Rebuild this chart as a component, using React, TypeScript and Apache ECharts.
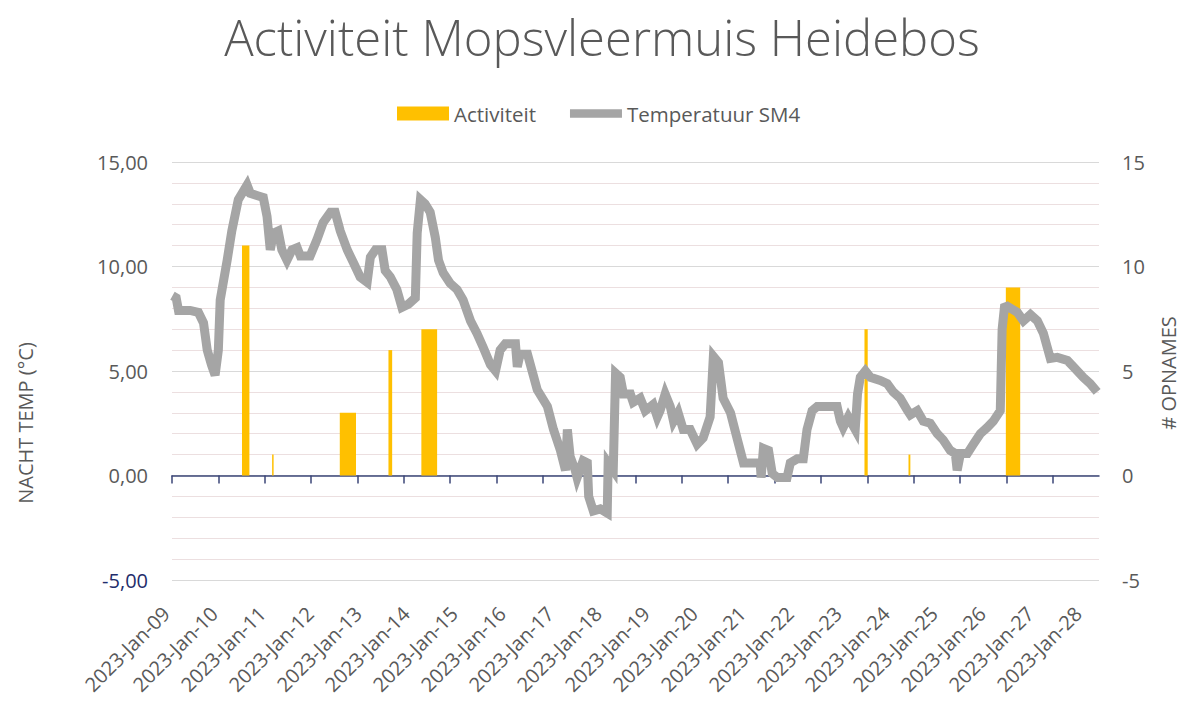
import React, { useEffect, useRef } from 'react';
import * as echarts from 'echarts';

// X labels (one per night)
const dateLabels = [
  '2023-Jan-09', '2023-Jan-10', '2023-Jan-11', '2023-Jan-12', '2023-Jan-13',
  '2023-Jan-14', '2023-Jan-15', '2023-Jan-16', '2023-Jan-17', '2023-Jan-18',
  '2023-Jan-19', '2023-Jan-20', '2023-Jan-21', '2023-Jan-22', '2023-Jan-23',
  '2023-Jan-24', '2023-Jan-25', '2023-Jan-26', '2023-Jan-27', '2023-Jan-28',
];

// Night temperature SM4 : position (in nights from start) and value (°C)
const tempDays = [
  0.01, 0.09, 0.14, 0.39, 0.57, 0.68, 0.76, 0.85, 0.93, 1.0, 1.04, 1.19, 1.29, 1.43, 1.62, 1.69,
  1.83, 1.97, 2.05, 2.12, 2.19, 2.29, 2.37, 2.48, 2.59, 2.7, 2.77, 2.98, 3.13, 3.26, 3.42, 3.52,
  3.63, 3.78, 3.91, 4.06, 4.21, 4.28, 4.39, 4.53, 4.6, 4.71, 4.85, 4.96, 5.1, 5.25, 5.29, 5.36,
  5.46, 5.57, 5.68, 5.75, 5.85, 6.0, 6.15, 6.28, 6.44, 6.58, 6.72, 6.87, 6.98, 7.08, 7.19, 7.41,
  7.45, 7.51, 7.67, 7.88, 8.1, 8.23, 8.38, 8.49, 8.53, 8.59, 8.7, 8.74, 8.87, 8.96, 8.99, 9.09,
  9.24, 9.39, 9.41, 9.52, 9.57, 9.67, 9.74, 9.89, 9.95, 10.1, 10.21, 10.38, 10.47, 10.53, 10.64,
  10.75, 10.82, 10.92, 11.03, 11.18, 11.33, 11.46, 11.61, 11.68, 11.79, 11.89, 12.05, 12.2, 12.33,
  12.41, 12.69, 12.71, 12.76, 12.87, 12.95, 13.06, 13.27, 13.34, 13.49, 13.62, 13.7, 13.81, 13.92,
  14.35, 14.42, 14.48, 14.59, 14.74, 14.79, 14.85, 14.96, 15.07, 15.28, 15.43, 15.56, 15.71, 15.87,
  15.93, 16.08, 16.21, 16.36, 16.51, 16.64, 16.79, 16.9, 16.94, 17.01, 17.16, 17.29, 17.44, 17.59,
  17.72, 17.87, 17.91, 17.96, 18.02, 18.24, 18.37, 18.52, 18.67, 18.8, 18.95, 19.1, 19.32, 19.45,
  19.66, 19.81, 19.96,
];
const tempValues = [
  8.6, 8.5, 7.9, 7.9, 7.8, 7.3, 6.0, 5.3, 4.8, 6.0, 8.4, 10.3, 11.7, 13.2, 13.9, 13.5,
  13.4, 13.3, 12.4, 10.8, 11.6, 11.7, 10.8, 10.3, 10.8, 10.9, 10.5, 10.5, 11.3, 12.1, 12.6, 12.6,
  11.7, 10.8, 10.2, 9.5, 9.25, 10.45, 10.8, 10.8, 9.8, 9.5, 8.9, 8.05, 8.2, 8.5, 11.6, 13.2,
  13.0, 12.6, 11.4, 10.3, 9.7, 9.2, 8.9, 8.4, 7.4, 6.8, 6.1, 5.3, 5.0, 6.0, 6.3, 6.3,
  5.2, 5.8, 5.8, 4.1, 3.3, 2.2, 1.2, 0.25, 2.2, 0.9, 0.25, -0.1, 0.7, 0.6, -1.0, -1.7,
  -1.6, -1.8, 0.6, 0.25, 4.9, 4.7, 3.9, 3.9, 3.5, 3.7, 3.1, 3.4, 2.8, 3.1, 3.9,
  3.3, 2.6, 3.0, 2.2, 2.2, 1.5, 1.8, 2.8, 5.7, 5.4, 3.7, 3.0, 1.7, 0.6,
  0.6, 0.6, -0.1, 1.3, 1.2, 0.1, -0.1, -0.1, 0.6, 0.8, 0.8, 2.2, 3.1, 3.3,
  3.3, 2.6, 2.3, 2.8, 2.2, 3.9, 4.7, 5.0, 4.7, 4.55, 4.4, 4.0, 3.7, 3.1,
  2.9, 3.1, 2.6, 2.5, 2.0, 1.7, 1.2, 1.05, 0.25, 1.05, 1.05, 1.5, 2.0, 2.3,
  2.6, 3.1, 7.0, 8.05, 8.1, 7.8, 7.4, 7.7, 7.4, 6.8, 5.6, 5.65, 5.5, 5.2,
  4.7, 4.4, 4.0,
];

// Activity (# recordings): start / end position (nights) and count
const activityStart = [1.51, 2.16, 3.62, 4.67, 5.38, 14.94, 15.89, 17.99];
const activityEnd = [1.67, 2.19, 3.97, 4.75, 5.72, 15.01, 15.93, 18.3];
const activityCount = [11, 1, 3, 6, 7, 7, 1, 9];

const tickDays = Array.from({ length: 20 }, (_, i) => i);

const FONT = "'Open Sans', sans-serif";
const GREY_TEXT = '#595959';

export default function App() {
  const ref = useRef<HTMLDivElement>(null);

  useEffect(() => {
    document.body.style.margin = '0';
    if (!ref.current) return;
    const chart = echarts.init(ref.current, undefined, { renderer: 'svg' });

    const tempData = tempDays.map((d, i) => [d, tempValues[i]]);
    const actData = activityStart.map((s, i) => [s, activityEnd[i], activityCount[i]]);

    chart.setOption({
      animation: false,
      backgroundColor: '#ffffff',
      textStyle: { fontFamily: FONT },
      graphic: [
        {
          type: 'text',
          x: 602,
          y: 37,
          style: {
            text: 'Activiteit Mopsvleermuis Heidebos',
            fontSize: 49,
            fontWeight: 300,
            fontFamily: FONT,
            fill: GREY_TEXT,
            align: 'center',
            verticalAlign: 'middle',
          },
        },
        {
          type: 'text',
          x: 25,
          y: 423,
          rotation: Math.PI / 2,
          style: {
            text: 'NACHT TEMP (°C)',
            fontSize: 20,
            fontFamily: FONT,
            fill: GREY_TEXT,
            align: 'center',
            verticalAlign: 'middle',
          },
        },
        {
          type: 'text',
          x: 1168,
          y: 373,
          rotation: Math.PI / 2,
          style: {
            text: '# OPNAMES',
            fontSize: 20,
            fontFamily: FONT,
            fill: GREY_TEXT,
            align: 'center',
            verticalAlign: 'middle',
          },
        },
      ],
      legend: {
        left: 392,
        top: 98,
        itemWidth: 52,
        itemHeight: 14,
        itemGap: 34,
        textStyle: { fontSize: 20.5, color: GREY_TEXT, fontFamily: FONT },
        data: [
          { name: 'Activiteit', icon: 'rect' },
          { name: 'Temperatuur SM4', icon: 'path://M0,0H60V10H0Z' },
        ],
      },
      grid: [
        { left: 172, right: 85, top: 162, bottom: 122, containLabel: false },
        { left: 166, width: 912, top: 162, bottom: 122, containLabel: false },
      ],
      xAxis: [
        {
          gridIndex: 0,
          type: 'value',
          min: 0,
          max: 20,
          axisLine: {
            show: true,
            onZero: true,
            onZeroAxisIndex: 0,
            lineStyle: { color: '#3b4677', width: 1.5 },
          },
          axisTick: {
            show: true,
            customValues: tickDays,
            length: 8,
            lineStyle: { color: '#3b4677', width: 1.5 },
          },
          axisLabel: { show: false },
          splitLine: { show: false },
        },
        {
          gridIndex: 1,
          type: 'value',
          min: 0,
          max: 19,
          interval: 1,
          axisLine: { show: false, onZero: false },
          axisTick: { show: false },
          splitLine: { show: false },
          axisLabel: {
            rotate: 45,
            margin: 30,
            fontSize: 20,
            color: GREY_TEXT,
            fontFamily: FONT,
            showMinLabel: true,
            showMaxLabel: true,
            formatter: (v: number) => dateLabels[Math.round(v)] ?? '',
          },
        },
      ],
      yAxis: [
        {
          gridIndex: 0,
          type: 'value',
          position: 'left',
          min: -5,
          max: 15,
          interval: 5,
          axisLine: { show: false },
          axisTick: { show: false },
          axisLabel: {
            margin: 24,
            fontSize: 20,
            fontFamily: FONT,
            color: (v: any) => (Number(v) < 0 ? '#1f2d6b' : GREY_TEXT),
            formatter: (v: number) => v.toFixed(2).replace('.', ','),
          },
          splitLine: { show: true, lineStyle: { color: '#d9d9d9', width: 1 } },
          minorTick: { show: false, splitNumber: 5 },
          minorSplitLine: { show: true, lineStyle: { color: '#ecdfe0', width: 1 } },
        },
        {
          gridIndex: 0,
          type: 'value',
          position: 'right',
          min: -5,
          max: 15,
          interval: 5,
          axisLine: { show: false },
          axisTick: { show: false },
          splitLine: { show: false },
          axisLabel: {
            margin: 23,
            fontSize: 20,
            fontFamily: FONT,
            color: GREY_TEXT,
            formatter: (v: number) => String(v),
          },
        },
        {
          gridIndex: 1,
          type: 'value',
          min: -5,
          max: 15,
          show: false,
        },
      ],
      series: [
        {
          name: 'Activiteit',
          type: 'custom',
          xAxisIndex: 0,
          yAxisIndex: 1,
          itemStyle: { color: '#FFC000' },
          encode: { x: [0, 1], y: 2 },
          data: actData,
          renderItem: (_params: any, api: any) => {
            const topLeft = api.coord([api.value(0), api.value(2)]);
            const bottomRight = api.coord([api.value(1), 0]);
            return {
              type: 'rect',
              shape: {
                x: topLeft[0],
                y: topLeft[1],
                width: Math.max(bottomRight[0] - topLeft[0], 1.5),
                height: bottomRight[1] - topLeft[1],
              },
              style: { fill: api.visual('color') },
            };
          },
        },
        {
          name: 'Temperatuur SM4',
          type: 'line',
          xAxisIndex: 0,
          yAxisIndex: 0,
          data: tempData,
          symbol: 'none',
          showSymbol: false,
          itemStyle: { color: '#A5A5A5' },
          lineStyle: { color: '#A5A5A5', width: 9, join: 'miter' },
        },
      ],
    });

    return () => {
      chart.dispose();
    };
  }, []);

  return <div ref={ref} style={{ width: 1184, height: 702 }} />;
}
